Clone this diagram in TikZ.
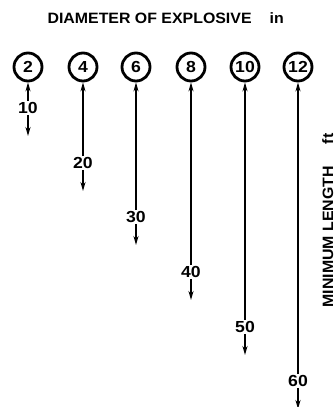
\documentclass[tikz,border=0pt]{standalone}
\usepackage{fontspec}
\setmainfont{Liberation Sans}
\newfontfamily\wfont[FakeStretch=1.06]{Liberation Sans}
\newfontfamily\nfont[FakeStretch=1.1]{Liberation Sans}
\usetikzlibrary{arrows.meta}
\begin{document}
\begin{tikzpicture}[x=1pt,y=-1pt,
  dia/.style={circle,draw,line width=2.8pt,minimum size=28pt,inner sep=0pt,font=\nfont\bfseries\fontsize{16}{16}\selectfont},
  lab/.style={inner sep=1pt,font=\nfont\bfseries\fontsize{16}{16}\selectfont},
  conn/.style={line width=1.6pt,-{Stealth[length=9pt,width=5pt]}},
  ttl/.style={font=\wfont\bfseries\fontsize{15}{15}\selectfont}]
\useasboundingbox (0,0) rectangle (335,407);
\node[ttl,anchor=base west] (title) at (44,23) {DIAMETER OF EXPLOSIVE\hspace{18pt}in};
\node[ttl,rotate=90,anchor=base west] (ylab) at (333,311) {MINIMUM LENGTH\hspace{22pt}ft};
\foreach \d/\x/\L/\y in {2/28/10/108, 4/83/20/163, 6/136/30/217, 8/191/40/272, 10/245/50/327, 12/298/60/381}{
  \node[dia] (c\d) at (\x,67) {\d};
  \node[lab] (l\L) at (\x,\y) {\L};
  \coordinate (e\L) at (\x,\y+28);
  \draw[conn] (l\L) -- (c\d);
  \draw[conn] (l\L) -- (e\L);
}
\end{tikzpicture}
\end{document}
